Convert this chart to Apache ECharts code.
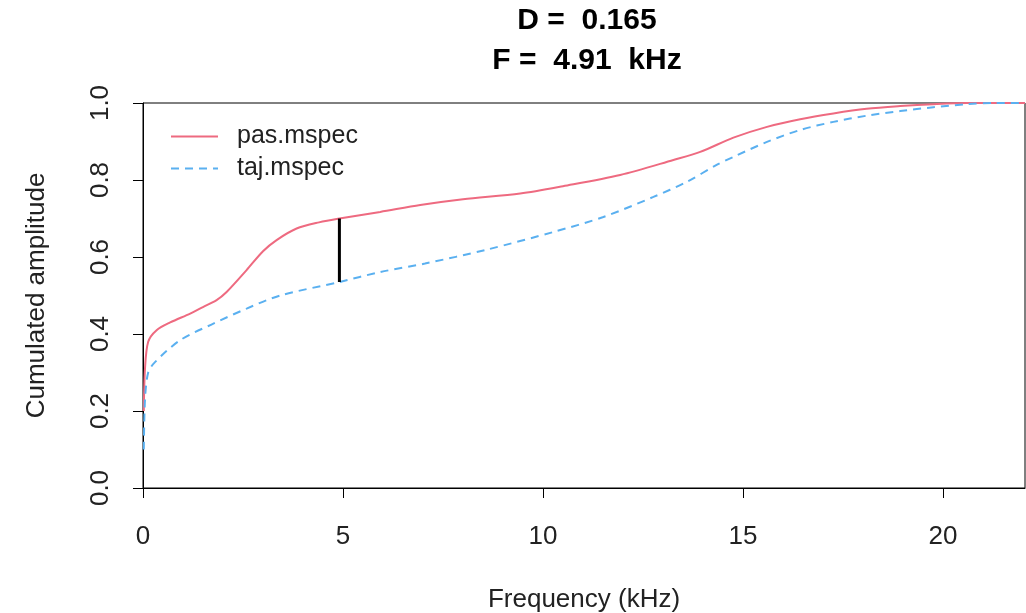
<!DOCTYPE html>
<html>
<head>
<meta charset="utf-8">
<script src="https://cdn.jsdelivr.net/npm/echarts@6/dist/echarts.min.js"></script>
<style>
  html, body { margin: 0; padding: 0; background: #fff; }
  #chart { width: 1026px; height: 613px; }
</style>
</head>
<body>
<div id="chart"></div>
<script>
// cumulated spectra, [frequency kHz, cumulated amplitude]
var pasSpec = [
  [0.02, 0.20], [0.05, 0.31], [0.13, 0.38], [0.34, 0.41], [0.68, 0.43],
  [1.18, 0.453], [1.5, 0.47], [1.84, 0.488], [2.09, 0.509], [2.59, 0.566],
  [3.0, 0.615], [3.34, 0.644], [3.84, 0.674], [4.4, 0.69], [4.91, 0.70],
  [5.93, 0.717], [6.93, 0.735], [8.0, 0.75], [9.43, 0.765], [10.5, 0.784],
  [11.93, 0.813], [13.26, 0.852], [13.93, 0.873], [14.76, 0.910], [15.6, 0.938],
  [16.43, 0.958], [17.26, 0.973], [18.09, 0.985], [18.93, 0.992], [19.76, 0.997],
  [20.6, 1.0], [22.05, 1.0]
];
var tajSpec = [
  [0.02, 0.10], [0.05, 0.23], [0.13, 0.30], [0.3, 0.327], [0.93, 0.384],
  [1.76, 0.427], [2.59, 0.466], [3.43, 0.50], [4.91, 0.535], [5.93, 0.561],
  [7.05, 0.583], [8.59, 0.619], [10.26, 0.665], [11.51, 0.704], [12.76, 0.756],
  [13.59, 0.795], [14.34, 0.839], [14.76, 0.860], [15.6, 0.899], [16.43, 0.930],
  [17.26, 0.951], [18.09, 0.967], [18.93, 0.979], [19.76, 0.989], [20.6, 0.997],
  [21.3, 1.0], [22.05, 1.0]
];
var dStat = 0.165;
var fStat = 4.91;
var dSegment = [[fStat, 0.535], [fStat, 0.535 + dStat]];
var seriesNames = ['pas.mspec', 'taj.mspec'];

var font = '"Liberation Sans", Arial, Helvetica, sans-serif';
var chart = echarts.init(document.getElementById('chart'), null, { renderer: 'canvas' });

var options = {
  backgroundColor: '#fff',
  animation: false,
  title: {
    text: 'D =  ' + dStat + '\nF =  ' + fStat + '  kHz',
    left: 582,
    textAlign: 'center',
    top: -4,
    textStyle: { fontFamily: font, fontWeight: 'bold', fontSize: 30, lineHeight: 40, color: '#000' }
  },
  legend: {
    data: seriesNames,
    orient: 'vertical',
    left: 165,
    top: 119,
    itemGap: 7,
    itemWidth: 47,
    itemHeight: 14,
    itemStyle: { opacity: 0 },
    textStyle: { fontFamily: font, fontSize: 25, color: '#222', padding: [0, 0, 0, 14] }
  },
  grid: {
    left: 143, right: 1, top: 103, bottom: 125,
    outerBoundsMode: 'none',
    containLabel: false,
    show: true, borderColor: '#000', borderWidth: 1
  },
  xAxis: {
    type: 'value',
    min: 0, max: 22.05, interval: 5,
    name: 'Frequency (kHz)',
    nameLocation: 'middle',
    nameGap: 99,
    nameTextStyle: { fontFamily: font, fontSize: 26, color: '#222' },
    axisLine: { show: true, onZero: false, lineStyle: { color: '#000', width: 1 } },
    axisTick: { show: true, length: 10, lineStyle: { color: '#000' } },
    axisLabel: {
      fontFamily: font, fontSize: 26, color: '#222', margin: 36,
      showMaxLabel: false
    },
    splitLine: { show: false }
  },
  yAxis: {
    type: 'value',
    min: 0, max: 1, interval: 0.2,
    name: 'Cumulated amplitude',
    nameLocation: 'middle',
    nameGap: 93,
    nameTextStyle: { fontFamily: font, fontSize: 26, color: '#222' },
    axisLine: { show: true, lineStyle: { color: '#000', width: 1 } },
    axisTick: { show: true, length: 10, lineStyle: { color: '#000' } },
    axisLabel: {
      fontFamily: font, fontSize: 26, color: '#222', margin: 29, rotate: 90,
      formatter: function (v) { return v.toFixed(1); }
    },
    splitLine: { show: false }
  },
  series: [
    {
      name: seriesNames[0],
      type: 'line',
      data: pasSpec,
      symbol: 'none',
      smooth: 0.3,
      itemStyle: { color: '#EE6A80' },
      lineStyle: { color: '#EE6A80', width: 2 }
    },
    {
      name: seriesNames[1],
      type: 'line',
      data: tajSpec,
      symbol: 'none',
      smooth: 0.3,
      itemStyle: { color: '#5AB0F0' },
      lineStyle: { color: '#5AB0F0', width: 2, type: [8, 6] }
    },
    {
      name: 'D',
      type: 'line',
      data: dSegment,
      symbol: 'none',
      lineStyle: { color: '#000', width: 3 },
      z: 5
    }
  ]
};
chart.setOption(options);
</script>
</body>
</html>
